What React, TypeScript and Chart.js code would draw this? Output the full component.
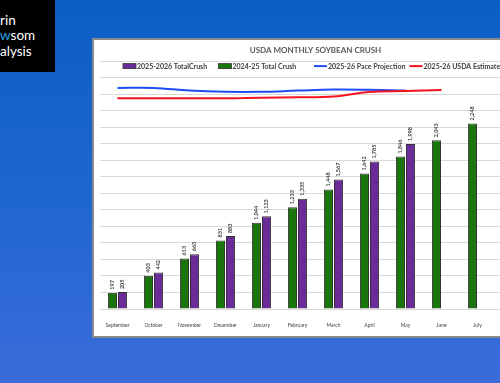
import React, { useEffect, useRef } from "react";
import { Chart, registerables } from "chart.js";

Chart.register(...registerables);

const months = ["September", "October", "November", "December", "January", "February", "March", "April", "May", "June", "July", "August"];
const crush2526: (number | null)[] = [205, 442, 663, 883, 1123, 1335, 1567, 1785, 1998, null, null, null];
const crush2425: (number | null)[] = [197, 403, 613, 831, 1044, 1233, 1448, 1642, 1846, 2043, 2248, null];
const paceProjection: (number | null)[] = [2678, 2678, 2645, 2630, 2630, 2645, 2658, 2655, 2645, null, null, null];
const usdaEstimate: (number | null)[] = [2552, 2552, 2552, 2552, 2560, 2565, 2575, 2629, 2640, 2652, null, null];
const seriesNames = ["2024-25 Total Crush", "2025-2026 TotalCrush", "2025-26 Pace Projection", "2025-26 USDA Estimate"];
const legendOrder = [1, 0, 2, 3];
const yMax = 3000;
const yStep = 200;

const FONT = "Lato, 'Open Sans', sans-serif";

const dataLabelPlugin = {
  id: "barLabels",
  afterDatasetsDraw(chart: any) {
    const ctx = chart.ctx;
    ctx.save();
    ctx.font = `bold 5.5px ${FONT}`;
    ctx.fillStyle = "#404040";
    ctx.textAlign = "left";
    ctx.textBaseline = "middle";
    [0, 1].forEach((di) => {
      const meta = chart.getDatasetMeta(di);
      const data = chart.data.datasets[di].data;
      meta.data.forEach((el: any, i: number) => {
        const v = data[i];
        if (v == null) return;
        ctx.save();
        ctx.translate(el.x, el.y - 3);
        ctx.rotate(-Math.PI / 2);
        ctx.fillText(Number(v).toLocaleString("en-US"), 0, 0);
        ctx.restore();
      });
    });
    ctx.restore();
  },
};

const legendPlugin = {
  id: "overlayLegend",
  afterDraw(chart: any) {
    const ctx = chart.ctx;
    const area = chart.chartArea;
    const colW = 95.5;
    const y = area.top + 4.8;
    ctx.save();
    ctx.font = `bold 7px ${FONT}`;
    ctx.fillStyle = "#404040";
    ctx.textBaseline = "middle";
    legendOrder.forEach((di, k) => {
      const ds = chart.data.datasets[di];
      const x = area.left + 23.5 + k * colW;
      if (ds.type === "line") {
        ctx.strokeStyle = ds.borderColor;
        ctx.lineWidth = 2;
        ctx.beginPath();
        ctx.moveTo(x, y);
        ctx.lineTo(x + 13, y);
        ctx.stroke();
      } else {
        ctx.fillStyle = ds.backgroundColor;
        ctx.fillRect(x, y - 2.5, 13, 5);
        ctx.strokeStyle = "#333";
        ctx.lineWidth = 0.8;
        ctx.strokeRect(x, y - 2.5, 13, 5);
      }
      ctx.fillStyle = "#404040";
      ctx.fillText(ds.label, x + 14, y + 0.5);
    });
    ctx.restore();
  },
};

function ChartBox() {
  const ref = useRef<HTMLCanvasElement | null>(null);
  useEffect(() => {
    if (!ref.current) return;
    const chart = new Chart(ref.current, {
      type: "bar",
      data: {
        labels: months,
        datasets: [
          {
            type: "bar",
            label: seriesNames[0],
            data: crush2425,
            backgroundColor: "#1a760c",
            borderColor: "#333333",
            borderWidth: 1,
            categoryPercentage: 0.56,
            barPercentage: 0.9,
            order: 2,
          } as any,
          {
            type: "bar",
            label: seriesNames[1],
            data: crush2526,
            backgroundColor: "#6a2c98",
            borderColor: "#333333",
            borderWidth: 1,
            categoryPercentage: 0.56,
            barPercentage: 0.9,
            order: 2,
          } as any,
          {
            type: "line",
            label: seriesNames[2],
            data: paceProjection,
            borderColor: "#1f4cf5",
            backgroundColor: "#1f4cf5",
            borderWidth: 2,
            pointRadius: 0,
            tension: 0.4,
            order: 1,
          } as any,
          {
            type: "line",
            label: seriesNames[3],
            data: usdaEstimate,
            borderColor: "#f5141e",
            backgroundColor: "#f5141e",
            borderWidth: 2,
            pointRadius: 0,
            tension: 0.4,
            order: 0,
          } as any,
        ],
      },
      options: {
        responsive: false,
        animation: false,
        layout: { padding: { left: 5.5, right: 20.5, top: 0, bottom: 3 } },
        plugins: {
          legend: { display: false },
          tooltip: { enabled: false },
          title: {
            display: true,
            text: "USDA MONTHLY SOYBEAN CRUSH",
            color: "#595959",
            font: { family: FONT, size: 8, weight: "bold", lineHeight: 1.2 },
            padding: { top: 5.6, bottom: 6.1 },
          },
        },
        scales: {
          x: {
            grid: { display: false },
            border: { display: false },
            ticks: {
              color: "#404040",
              font: { family: FONT, size: 5, lineHeight: 1.2 },
              padding: 5,
              maxRotation: 0,
              autoSkip: false,
            },
          },
          y: {
            min: 0,
            max: yMax,
            grid: { color: "#d9d9d9", lineWidth: 1, drawTicks: false },
            border: { display: false },
            ticks: { display: false, stepSize: yStep },
          },
        },
      },
      plugins: [dataLabelPlugin, legendPlugin],
    });
    return () => chart.destroy();
  }, []);
  return <canvas ref={ref} width={458} height={296} style={{ width: 458, height: 296, display: "block" }} />;
}

export default function App() {
  return (
    <div
      style={{
        position: "fixed",
        left: 0,
        top: 0,
        width: 500,
        height: 383,
        overflow: "hidden",
        background: "linear-gradient(180deg, #0b5dc6 0%, #1e66d0 50%, #3b6cda 100%)",
      }}
    >
      <div
        style={{
          position: "absolute",
          left: 0,
          top: 0,
          width: 55,
          height: 72,
          background: "#000",
          color: "#fff",
          fontFamily: "Lato, 'Open Sans', sans-serif",
          fontSize: 13.5,
          lineHeight: "15.5px",
          paddingTop: 12.5,
          boxSizing: "border-box",
          overflow: "hidden",
          whiteSpace: "nowrap",
        }}
      >
        <div>rin</div>
        <div>
          <span style={{ color: "#2aa3e6" }}>w</span>som
        </div>
        <div>alysis</div>
      </div>
      <div
        style={{
          position: "absolute",
          left: 92,
          top: 38,
          width: 470,
          height: 300,
          background: "#fff",
          border: "2px solid #8a8a8a",
          boxSizing: "border-box",
        }}
      />
      <div style={{ position: "absolute", left: 94, top: 40 }}>
        <ChartBox />
      </div>
    </div>
  );
}
